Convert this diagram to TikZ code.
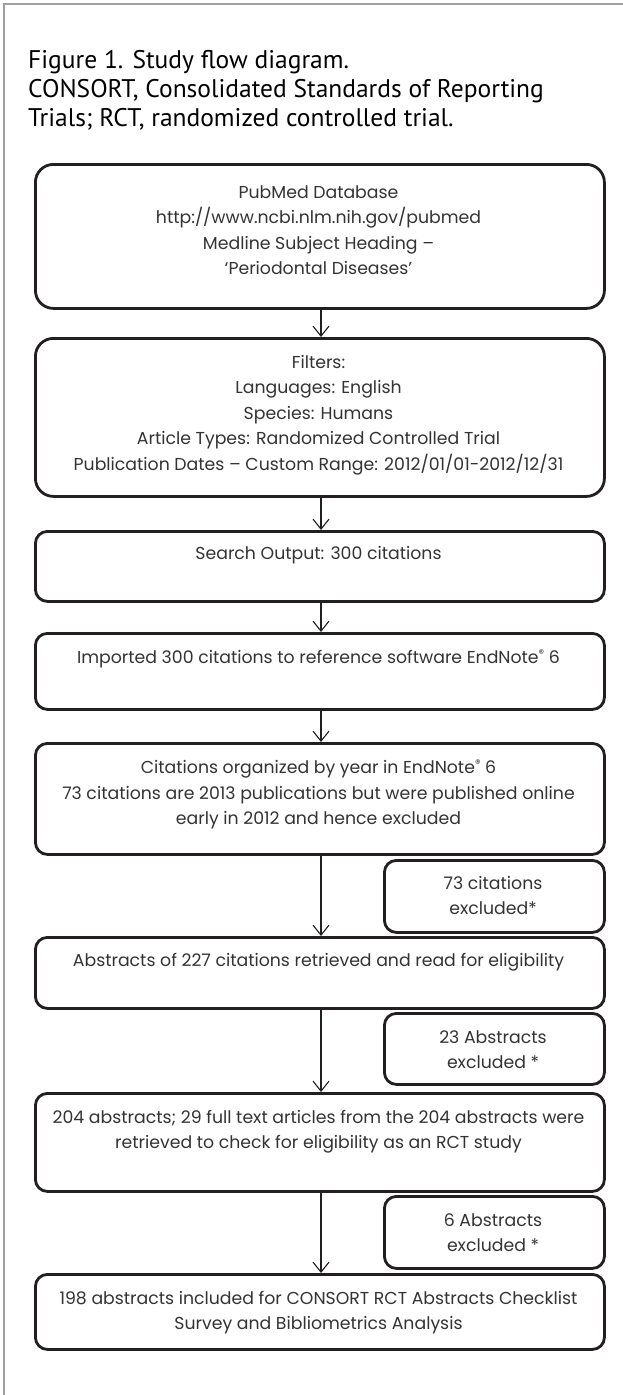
\documentclass[tikz,border=0pt]{standalone}
\usepackage{fontspec}
\setmainfont{Poppins}
\newfontfamily\titlefont{PT Sans}
\usetikzlibrary{arrows.meta}
\definecolor{ink}{HTML}{231F20}
\definecolor{bodytext}{HTML}{333333}
\definecolor{framegray}{HTML}{A0A0A0}
\newcommand{\regmark}{\raisebox{0.6ex}{\fontsize{11}{11}\selectfont ®}}
\begin{document}
\begin{tikzpicture}[x=1pt,y=-1pt,
  box/.style={draw=ink, line width=2.8pt, rounded corners=12pt, inner sep=0pt, anchor=north west},
  bigbox/.style={box, rounded corners=18pt},
  body/.style={text=bodytext, font=\fontsize{17.3}{25.5}\selectfont, align=center, inner sep=0pt, anchor=north},
  flow/.style={draw=ink, line width=1.1pt, -{Straight Barb[length=10pt,width=16pt,line width=1.1pt]}}
]
\useasboundingbox (0,0) rectangle (623,1395);
\draw[framegray, line width=2pt] (4,1395) -- (4,4) -- (623,4);

\node[anchor=north west, inner sep=0pt, align=left, font=\titlefont\fontsize{25.5}{29}\selectfont] (title) at (28,50)
  {Figure 1. Study flow diagram.\\CONSORT, Consolidated Standards of Reporting\\Trials; RCT, randomized controlled trial.};

% main boxes
\node[bigbox, minimum width=569pt, minimum height=144pt] (b1) at (34,163) {};
\node[bigbox, minimum width=569pt, minimum height=158pt] (b2) at (34,337) {};
\node[box, minimum width=569pt, minimum height=70pt] (b3) at (34,530) {};
\node[box, minimum width=569pt, minimum height=76pt] (b4) at (34,632) {};
\node[box, minimum width=569pt, minimum height=111pt] (b5) at (34,742) {};
\node[box, minimum width=569pt, minimum height=71pt] (b6) at (34,936) {};
\node[box, minimum width=569pt, minimum height=98pt] (b7) at (34,1092) {};
\node[box, minimum width=569pt, minimum height=75pt] (b8) at (34,1273) {};
% side boxes
\node[box, minimum width=220pt, minimum height=72pt] (s1) at (383,859) {};
\node[box, minimum width=220pt, minimum height=71pt] (s2) at (383,1012) {};
\node[box, minimum width=220pt, minimum height=72pt] (s3) at (383,1195) {};

% texts
\node[body] (t1) at (318.5,185) {PubMed Database\\http://www.ncbi.nlm.nih.gov/pubmed\\Medline Subject Heading –\\‘Periodontal Diseases’};
\node[body] (t2) at (318.5,355) {Filters:\\Languages: English\\Species: Humans\\Article Types: Randomized Controlled Trial\\Publication Dates – Custom Range: 2012/01/01-2012/12/31};
\node[body] (t3) at (318.5,546) {Search Output: 300 citations};
\node[body] (t4) at (318.5,650) {Imported 300 citations to reference software EndNote\regmark{} 6};
\node[body] (t5) at (318.5,760) {Citations organized by year in EndNote\regmark{} 6\\73 citations are 2013 publications but were published online\\early in 2012 and hence excluded};
\node[body] (t6) at (318.5,953) {Abstracts of 227 citations retrieved and read for eligibility};
\node[body] (t7) at (318.5,1110) {204 abstracts; 29 full text articles from the 204 abstracts were\\retrieved to check for eligibility as an RCT study};
\node[body] (t8) at (318.5,1291) {198 abstracts included for CONSORT RCT Abstracts Checklist\\Survey and Bibliometrics Analysis};
\node[body] (u1) at (493,876) {73 citations\\excluded*};
\node[body] (u2) at (493,1030) {23 Abstracts\\excluded *};
\node[body] (u3) at (493,1213) {6 Abstracts\\excluded *};

% connectors
\coordinate (ax) at (321,0);
\draw[flow] (b1.south -| ax) -- (b2.north -| ax);
\draw[flow] (b2.south -| ax) -- (b3.north -| ax);
\draw[flow] (b3.south -| ax) -- (b4.north -| ax);
\draw[flow] (b4.south -| ax) -- (b5.north -| ax);
\draw[flow] (b5.south -| ax) -- (b6.north -| ax);
\draw[flow] (b6.south -| ax) -- (b7.north -| ax);
\draw[flow] (b7.south -| ax) -- (b8.north -| ax);
\end{tikzpicture}
\end{document}
